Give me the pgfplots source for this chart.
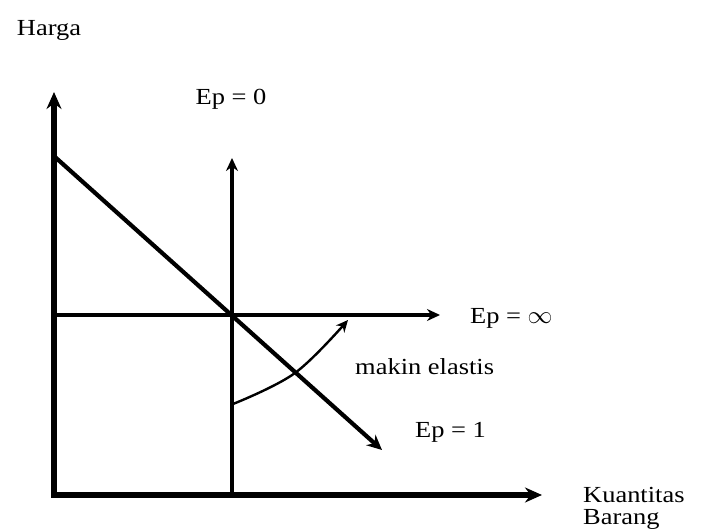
\documentclass[border=0pt]{standalone}
\usepackage{pgfplots}
\pgfplotsset{compat=1.18}
\usepackage{fontspec}
\setmainfont[FakeStretch=1.15]{Liberation Serif}
\usetikzlibrary{arrows.meta}

\tikzset{lbl/.style={font=\fontsize{23}{28}\selectfont, text=black, inner sep=0pt}}

\begin{document}
\begin{tikzpicture}
\begin{axis}[
  width=710pt, height=529pt, scale only axis,
  xmin=0, xmax=710, ymin=0, ymax=529, y dir=reverse,
  hide axis, clip=false,
  axis background/.style={fill=white},
]
% main axes: Harga (vertical) and Kuantitas Barang (horizontal)
\addplot[black, line width=5.5pt, {Stealth[length=17pt,width=15pt]}-{Stealth[length=17pt,width=15pt]}]
  coordinates {(54,92) (54,495) (542,495)};

% perfectly inelastic demand (Ep = 0)
\addplot[black, line width=3.2pt, -{Stealth[length=13pt,width=12pt]}]
  coordinates {(232,495) (232,158)};

% perfectly elastic demand (Ep = infinity)
\addplot[black, line width=3.2pt, -{Stealth[length=13pt,width=12pt]}]
  coordinates {(54,315) (440,315)};

% unit elastic demand (Ep = 1)
\addplot[black, line width=4.2pt, -{Stealth[length=15pt,width=14pt]}]
  coordinates {(55,157) (382,450)};

% rotation towards more elastic demand
\addplot[black, line width=2.4pt, smooth, tension=0.6, -{Stealth[length=12pt,width=11pt]}]
  coordinates {(233,404) (295,373) (348,320)};

\node[lbl, anchor=base] at (axis cs:49,36) {Harga};
\node[lbl, anchor=base] at (axis cs:231,105) {Ep = 0};
\node[lbl, anchor=west] at (axis cs:470,318) {Ep = $\infty$};
\node[lbl, anchor=west] at (axis cs:355,367) {makin elastis};
\node[lbl, anchor=west] at (axis cs:415,432) {Ep = 1};
\node[lbl, anchor=base west] at (axis cs:583,502) {Kuantitas};
\node[lbl, anchor=base west] at (axis cs:583,524) {Barang};
\end{axis}
\end{tikzpicture}
\end{document}
